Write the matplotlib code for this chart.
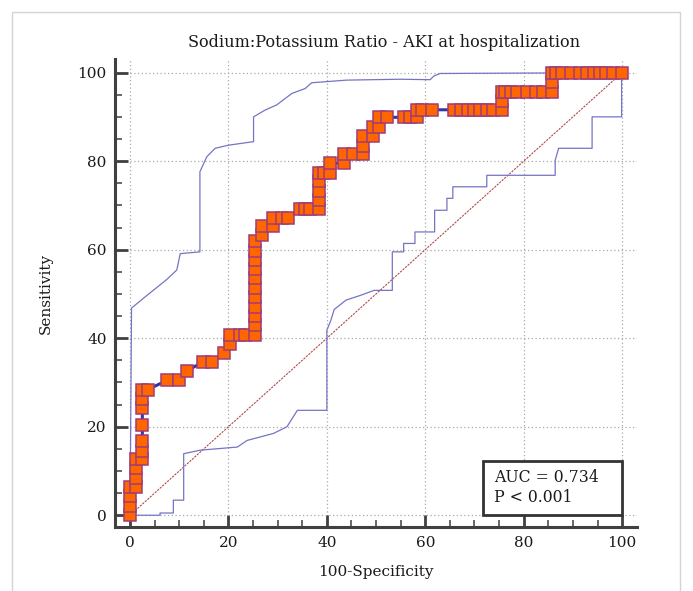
import matplotlib
matplotlib.use("Agg")
import matplotlib.pyplot as plt
from matplotlib.patches import Rectangle
from matplotlib.ticker import MultipleLocator

# ROC curve points (100-Specificity, Sensitivity)
roc_fpr = [0, 0, 0, 0, 1.2, 1.2, 1.2, 1.2, 2.5, 2.5, 2.5, 2.5, 2.5, 2.5, 2.5,
           3.6, 7.6, 10.0, 11.5, 14.8, 16.7, 19.0, 20.3, 20.3, 22.4, 23.4,
           25.3, 25.3, 25.3, 25.3, 25.3, 25.3, 25.3, 25.3, 25.3, 25.3, 25.3,
           26.9, 26.9, 29.0, 29.0, 30.8, 32.2, 34.5, 35.5, 36.5, 38.4, 38.4,
           38.4, 38.4, 38.4, 39.4, 40.7, 40.7, 43.5, 43.5, 45.4, 47.4, 47.4,
           47.4, 49.3, 49.3, 50.6, 50.6, 52.2, 55.6, 56.8, 58.3, 58.3, 59.4,
           61.3, 65.8, 67.2, 68.6, 69.9, 71.2, 72.5, 73.8, 75.5, 75.5, 75.5,
           76.2, 77.4, 78.7, 80.6, 82.6, 84.0, 85.8, 85.8, 85.8, 86.5, 87.8,
           89.7, 91.5, 92.8, 94.2, 95.5, 96.7, 98.1, 100]
roc_tpr = [0, 2.1, 4.3, 6.4, 6.4, 8.5, 10.6, 12.6, 12.6, 14.6, 16.8, 20.3, 24.3, 26.3, 28.4,
           28.4, 30.5, 30.5, 32.6, 34.6, 34.6, 36.6, 38.7, 40.8, 40.8, 40.8,
           40.8, 42.9, 45.0, 47.1, 49.2, 51.4, 53.5, 55.6, 57.7, 59.8, 61.9,
           63.2, 65.3, 65.3, 67.2, 67.2, 67.2, 69.1, 69.1, 69.1, 69.1, 71.2,
           73.3, 75.4, 77.4, 77.4, 77.4, 79.5, 79.5, 81.6, 81.6, 81.6, 83.5,
           85.6, 85.6, 87.8, 87.8, 89.9, 89.9, 89.9, 89.9, 89.9, 91.6, 91.6,
           91.6, 91.6, 91.6, 91.6, 91.6, 91.6, 91.6, 91.6, 91.6, 93.6, 95.7,
           95.7, 95.7, 95.7, 95.7, 95.7, 95.7, 95.7, 97.8, 100, 100, 100,
           100, 100, 100, 100, 100, 100, 100, 100]

# upper confidence bound
upper_x = [0, 0.3, 2.7, 7.5, 9.5, 10.2, 14.2, 14.2, 15.6, 17.3, 20.0, 25.1, 25.1,
           27.4, 29.8, 32.9, 35.6, 36.9, 44.0, 54.9, 61.0, 61.7, 63.0, 100]
upper_y = [0, 46.8, 49.0, 53.3, 55.4, 59.1, 59.5, 77.6, 81.0, 82.9, 83.6, 84.4, 90.0,
           91.5, 92.7, 95.3, 96.4, 97.7, 98.3, 98.5, 98.4, 99.2, 99.8, 100]

# lower confidence bound
lower_x = [0, 6.1, 6.1, 8.8, 8.8, 10.9, 10.9, 14.3, 21.8, 23.8, 29.2, 31.9, 34.0,
           40.0, 40.0, 40.8, 41.5, 43.9, 46.9, 49.6, 53.3, 53.3, 55.6, 55.6,
           57.9, 57.9, 61.9, 61.9, 64.4, 64.4, 65.6, 65.6, 72.5, 72.5, 86.4,
           86.4, 87.1, 93.9, 93.9, 99.9, 99.9]
lower_y = [0, 0, 0.5, 0.5, 3.4, 3.4, 13.9, 14.7, 15.4, 16.9, 18.5, 20.0, 23.7,
           23.7, 41.8, 44.0, 46.5, 48.6, 49.7, 50.8, 50.8, 59.5, 59.5, 61.4,
           61.4, 64.0, 64.0, 68.9, 68.9, 71.6, 71.6, 74.2, 74.2, 76.8, 76.8,
           80.2, 82.9, 82.9, 90.0, 90.0, 100]

AUC_TEXT = "AUC = 0.734\nP < 0.001"
TITLE = "Sodium:Potassium Ratio - AKI at hospitalization"

plt.rcParams["font.family"] = ["DejaVu Serif"]
TXT = "#1a1a1a"
SPINE = "#404040"

fig = plt.figure(figsize=(6.93, 5.91), dpi=100)
ax = fig.add_axes([0.166, 0.108, 0.753, 0.792])

# grid
ax.set_xticks(range(0, 101, 20))
ax.set_yticks(range(0, 101, 20))
ax.xaxis.set_minor_locator(MultipleLocator(5))
ax.yaxis.set_minor_locator(MultipleLocator(5))
ax.grid(True, which="major", color="#a8a8a8", linestyle=(0, (1, 2)), linewidth=0.9, zorder=0)

# diagonal reference
ax.plot([0, 100], [0, 100], color="#b24a4a", linestyle=(0, (2, 1)), linewidth=0.8, zorder=2)

# confidence bounds
ax.plot(upper_x, upper_y, color="#7474c4", linewidth=0.9, zorder=2)
ax.plot(lower_x, lower_y, color="#7474c4", linewidth=0.9, zorder=2)

# ROC curve
ax.plot(roc_fpr, roc_tpr, color="#3434a4", linewidth=2.2, zorder=3)
ax.plot(roc_fpr, roc_tpr, linestyle="None", marker="s", markersize=8.4,
        markerfacecolor="#ff6600", markeredgecolor="#a03c78", markeredgewidth=1.1, zorder=4)

# AUC box
ax.add_patch(Rectangle((71.7, 0), 28.3, 12.3, facecolor="white", edgecolor="#333333",
                       linewidth=2.0, zorder=5))
ax.text(74.0, 6.2, AUC_TEXT, fontsize=11.3, color=TXT, va="center", ha="left",
        linespacing=1.25, zorder=6)

ax.set_xlim(-3.05, 103.0)
ax.set_ylim(-2.7, 103.05)

for s in ["top", "right"]:
    ax.spines[s].set_visible(False)
for s in ["left", "bottom"]:
    ax.spines[s].set_color(SPINE)
    ax.spines[s].set_linewidth(2.2)

ax.tick_params(which="major", direction="in", length=9, width=2.0, color=SPINE,
               labelsize=11, labelcolor=TXT, pad=6)
ax.tick_params(which="minor", direction="in", length=5, width=1.1, color=SPINE)

ax.set_title(TITLE, fontsize=11.6, color=TXT, pad=9, x=0.515)
ax.set_xlabel("100-Specificity", fontsize=11, color=TXT, labelpad=11)
ax.set_ylabel("Sensitivity", fontsize=11, color=TXT, labelpad=18)

# light outer frame
fig.add_artist(Rectangle((12 / 693, -0.05), (680 - 12) / 693, 1.05 - 12 / 591,
                         transform=fig.transFigure, fill=False,
                         edgecolor="#d4d4d4", linewidth=1.0))

fig.savefig("out.png", dpi=100)
